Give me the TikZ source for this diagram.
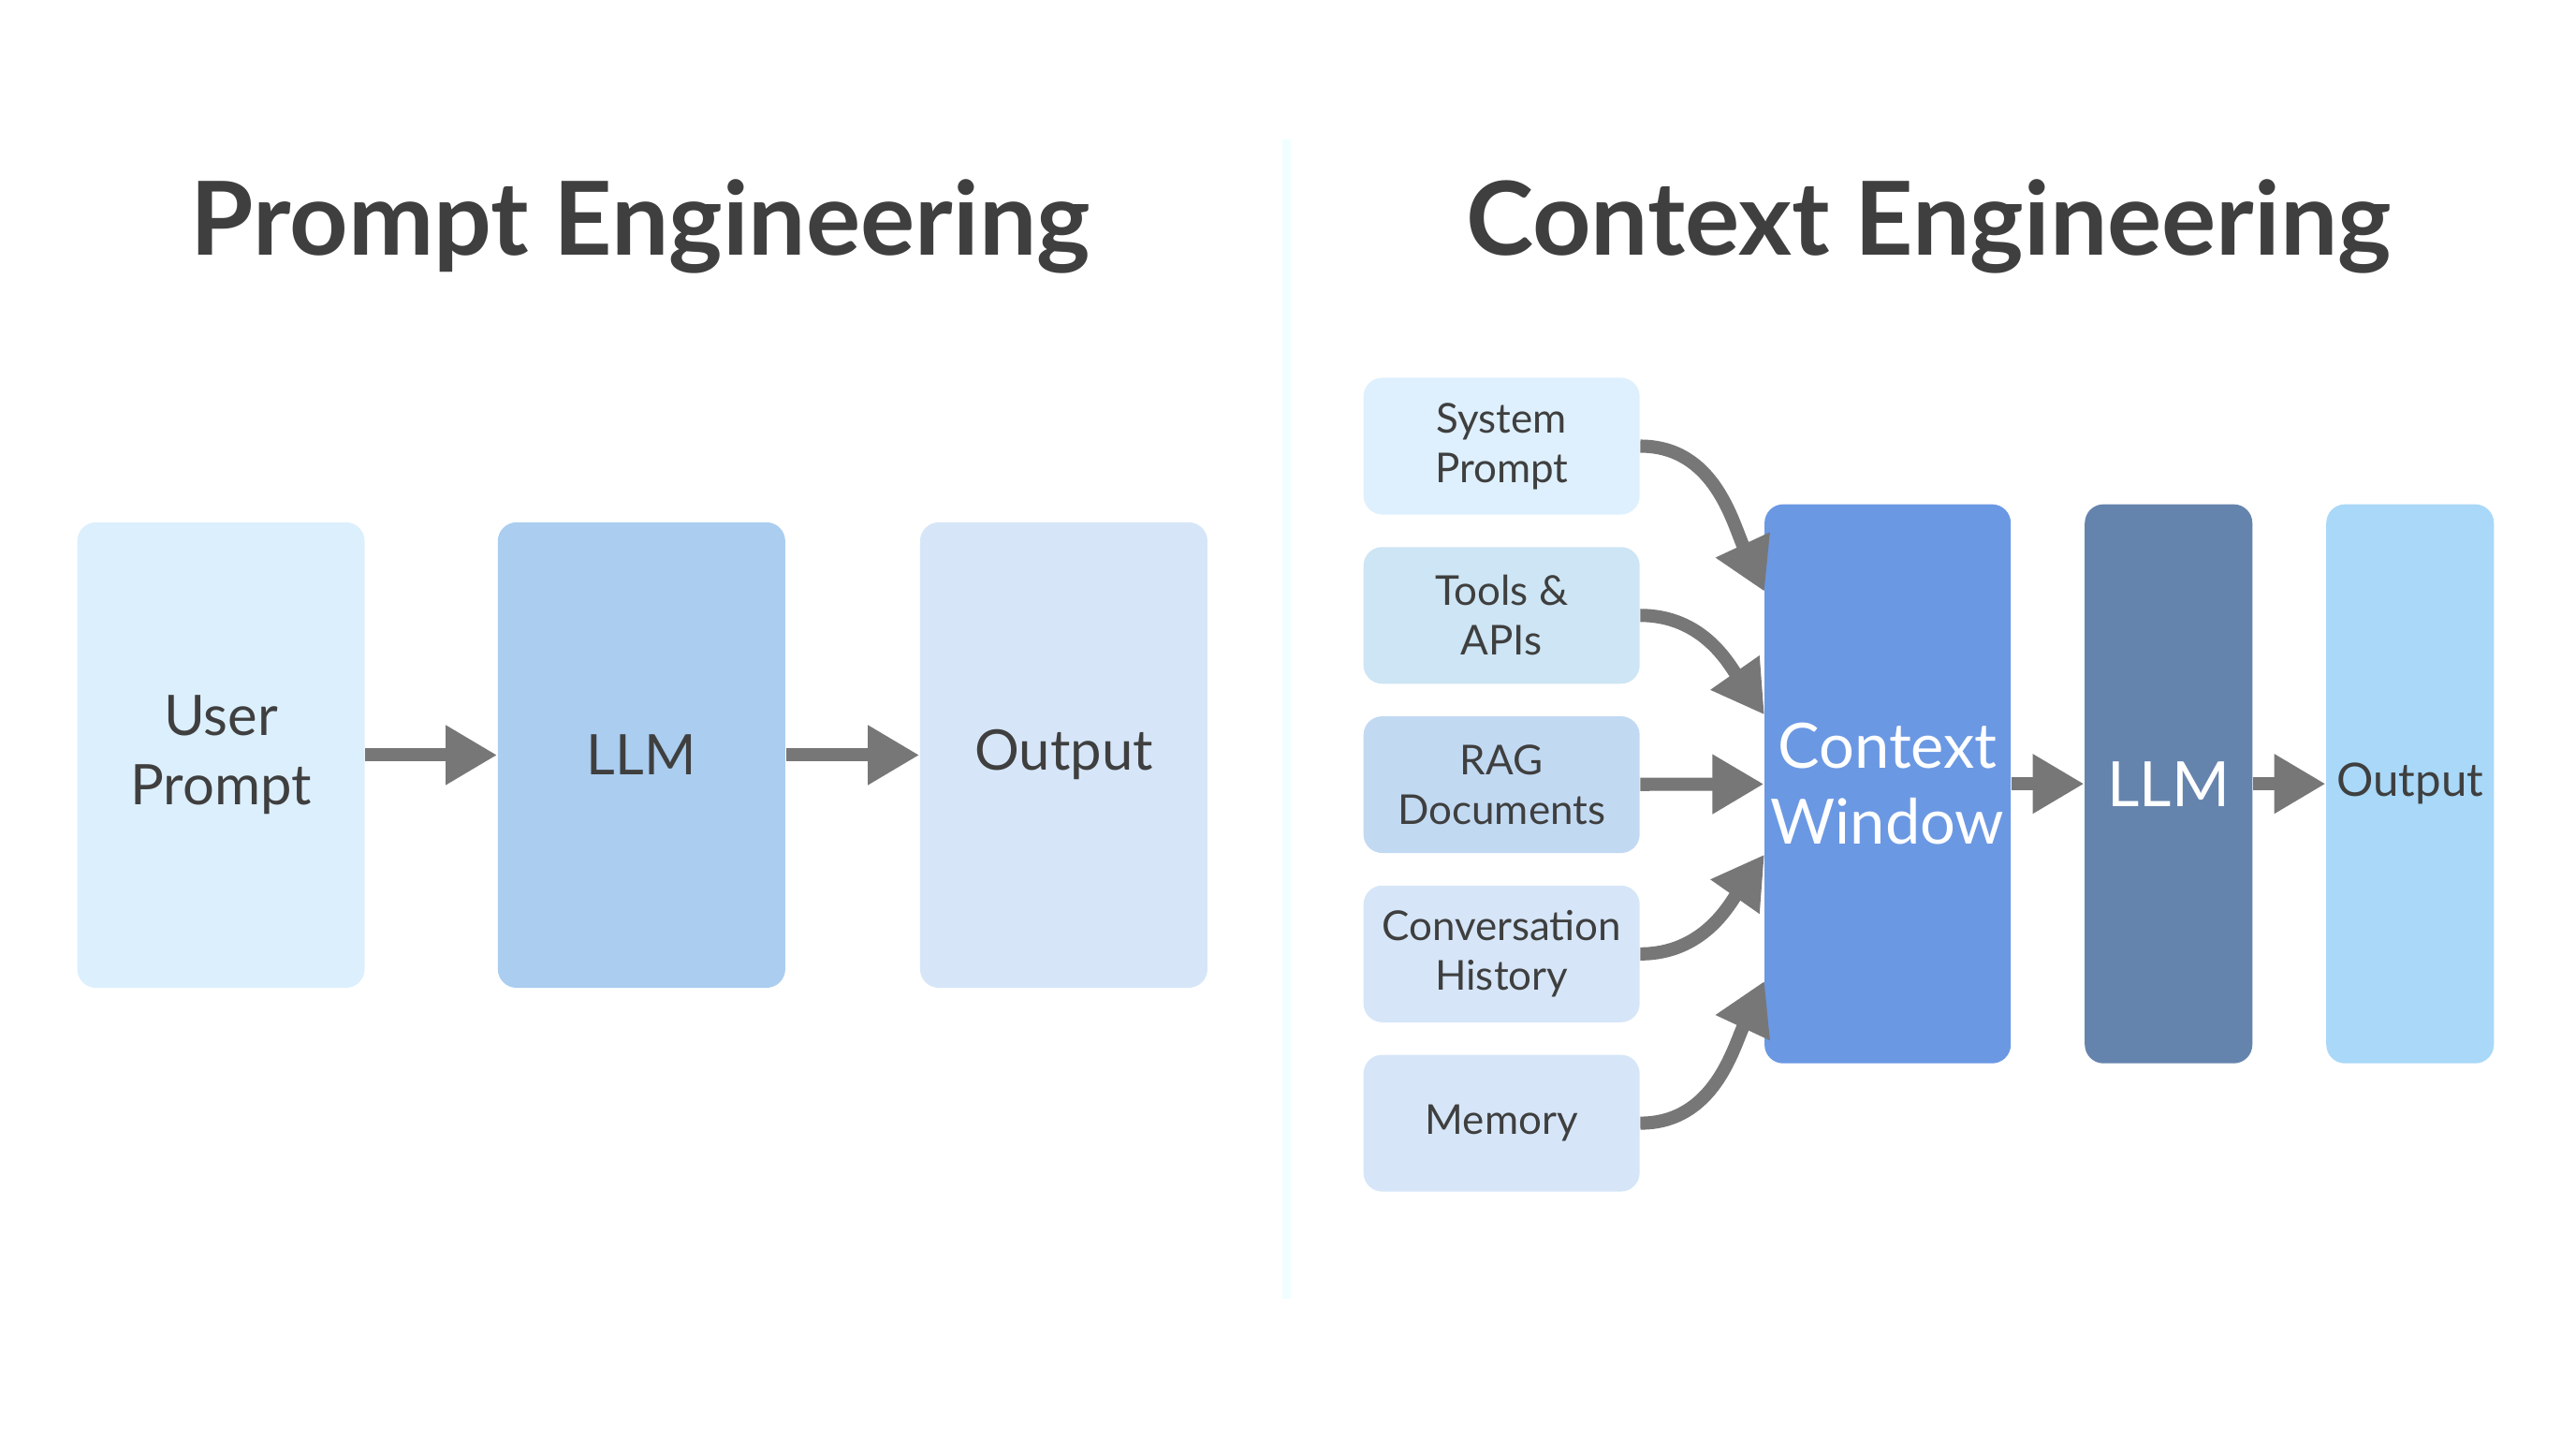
\documentclass[tikz,border=0pt]{standalone}
\usepackage{fontspec}
\setmainfont{Lato}
\usetikzlibrary{arrows.meta}
\definecolor{ink}{HTML}{3F3F3F}
\definecolor{arr}{HTML}{777777}
\definecolor{upc}{HTML}{DCEFFD}
\definecolor{llmc}{HTML}{AACDF0}
\definecolor{outc}{HTML}{D6E6F8}
\definecolor{spc}{HTML}{DEF0FD}
\definecolor{tac}{HTML}{CDE5F4}
\definecolor{ragc}{HTML}{C2D9F2}
\definecolor{cwc}{HTML}{6B98E3}
\definecolor{llmd}{HTML}{6584AD}
\definecolor{outd}{HTML}{A9D8F8}
\tikzset{
  box/.style={rounded corners=0.2cm, text=ink, align=center, inner sep=0pt},
  big/.style={box, minimum width=3.07cm, minimum height=4.97cm, font=\fontsize{17}{21}\selectfont},
  src/.style={box, minimum width=2.95cm, minimum height=1.46cm, font=\fontsize{12.5}{15}\selectfont},
  flow/.style={arr, line width=4pt, -{Triangle[length=0.55cm,width=0.6cm]}},
  title/.style={text=ink, font=\fontsize{31}{37}\selectfont\bfseries}
}
\begin{document}
\begin{tikzpicture}[x=0.01755cm, y=-0.01755cm]
\useasboundingbox (0,0) rectangle (1568,876);
% left half
\node[title] (pt) at (390,138) {Prompt Engineering};
\node[big, fill=upc] (up) at (134.5,459.5) {User\\Prompt};
\node[big, fill=llmc] (llm) at (390.5,459.5) {LLM};
\node[big, fill=outc] (out) at (647.5,459.5) {Output};
\draw[flow] (up) -- (llm);
\draw[flow] (llm) -- (out);
% divider
\draw[blue!8!cyan!6, line width=2.5pt] (783,85) -- (783,790);
% right half
\node[title] (ce) at (1174,138) {Context Engineering};
\node[src, fill=spc] (sp) at (914,271.5) {System\\Prompt};
\node[src, fill=tac] (ta) at (914,374.5) {Tools \&\\APIs};
\node[src, fill=ragc] (rag) at (914,477.5) {RAG\\Documents};
\node[src, fill=outc] (ch) at (914,580.5) {Conversation\\History};
\node[src, fill=outc] (mem) at (914,683.5) {Memory};
\node[box, fill=cwc, text=white, minimum width=2.63cm, minimum height=5.97cm, font=\fontsize{19}{23}\selectfont] (cw) at (1149,477) {Context\\Window};
\node[box, fill=llmd, text=white, minimum width=1.79cm, minimum height=5.97cm, font=\fontsize{19}{23}\selectfont] (llm2) at (1320,477) {LLM};
\node[box, fill=outd, minimum width=1.79cm, minimum height=5.97cm, font=\fontsize{14}{17}\selectfont] (out2) at (1467,477) {Output};
\coordinate (t1) at (1074,360);
\coordinate (t2) at (1074,435);
\coordinate (t4) at (1074,520);
\coordinate (t5) at (1074,597);
\draw[flow] (sp.east) to[out=0, in=115] (t1);
\draw[flow] (ta.east) to[out=0, in=125] (t2);
\draw[flow] (rag) -- (cw);
\draw[flow] (ch.east) to[out=0, in=235] (t4);
\draw[flow] (mem.east) to[out=0, in=245] (t5);
\draw[flow] (cw) -- (llm2);
\draw[flow] (llm2) -- (out2);
\end{tikzpicture}
\end{document}
